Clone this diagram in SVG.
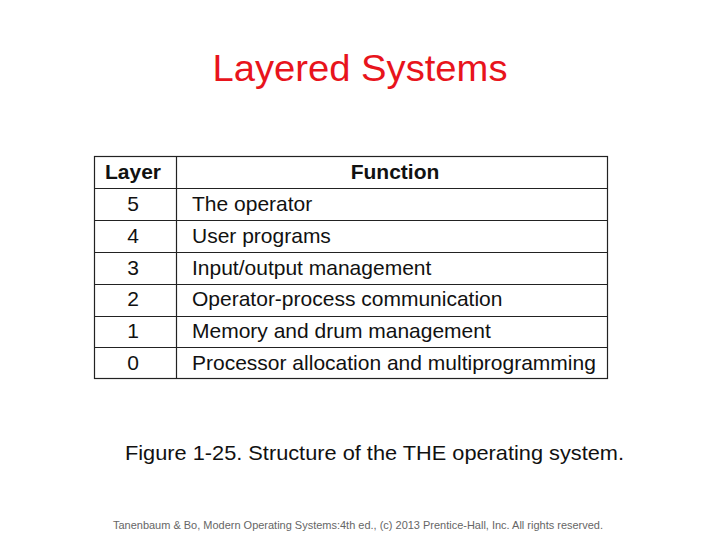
<svg xmlns="http://www.w3.org/2000/svg" width="720" height="540" viewBox="0 0 720 540">
<style>
.cell{font-family:"Liberation Sans",Arial,sans-serif;font-size:21px;fill:#111}
.hdr{font-weight:bold}
.num{text-anchor:middle}
.ln{stroke:#222;stroke-width:1.2;fill:none}
</style>
<rect width="720" height="540" fill="#fff"/>
<text x="360" y="81" text-anchor="middle" font-family="Liberation Sans,Arial,sans-serif" font-size="37" fill="#e8141c" textLength="295" lengthAdjust="spacingAndGlyphs">Layered Systems</text>
<g id="table">
<rect class="ln" x="94.5" y="156.5" width="513" height="222"/>
<line class="ln" x1="176.5" y1="156.5" x2="176.5" y2="378.5"/>
<line class="ln" x1="94.5" y1="188.5" x2="607.5" y2="188.5"/>
<line class="ln" x1="94.5" y1="220.5" x2="607.5" y2="220.5"/>
<line class="ln" x1="94.5" y1="252.5" x2="607.5" y2="252.5"/>
<line class="ln" x1="94.5" y1="284.5" x2="607.5" y2="284.5"/>
<line class="ln" x1="94.5" y1="316.5" x2="607.5" y2="316.5"/>
<line class="ln" x1="94.5" y1="347.5" x2="607.5" y2="347.5"/>
<text class="cell hdr num" x="133" y="179">Layer</text>
<text class="cell hdr num" x="395" y="179">Function</text>
<text class="cell num" x="133" y="211">5</text>
<text class="cell" x="192" y="211">The operator</text>
<text class="cell num" x="133" y="243">4</text>
<text class="cell" x="192" y="243">User programs</text>
<text class="cell num" x="133" y="275">3</text>
<text class="cell" x="192" y="275">Input/output management</text>
<text class="cell num" x="133" y="306">2</text>
<text class="cell" x="192" y="306">Operator-process communication</text>
<text class="cell num" x="133" y="338">1</text>
<text class="cell" x="192" y="338">Memory and drum management</text>
<text class="cell num" x="133" y="370">0</text>
<text class="cell" x="192" y="370">Processor allocation and multiprogramming</text>
</g>
<text x="374.5" y="460" text-anchor="middle" font-family="Liberation Sans,Arial,sans-serif" font-size="21" fill="#111" textLength="499" lengthAdjust="spacingAndGlyphs">Figure 1-25. Structure of the THE operating system.</text>
<text x="358" y="529" text-anchor="middle" font-family="Liberation Sans,Arial,sans-serif" font-size="11" fill="#666" textLength="490" lengthAdjust="spacingAndGlyphs">Tanenbaum &amp; Bo, Modern Operating Systems:4th ed., (c) 2013 Prentice-Hall, Inc. All rights reserved.</text>
</svg>
